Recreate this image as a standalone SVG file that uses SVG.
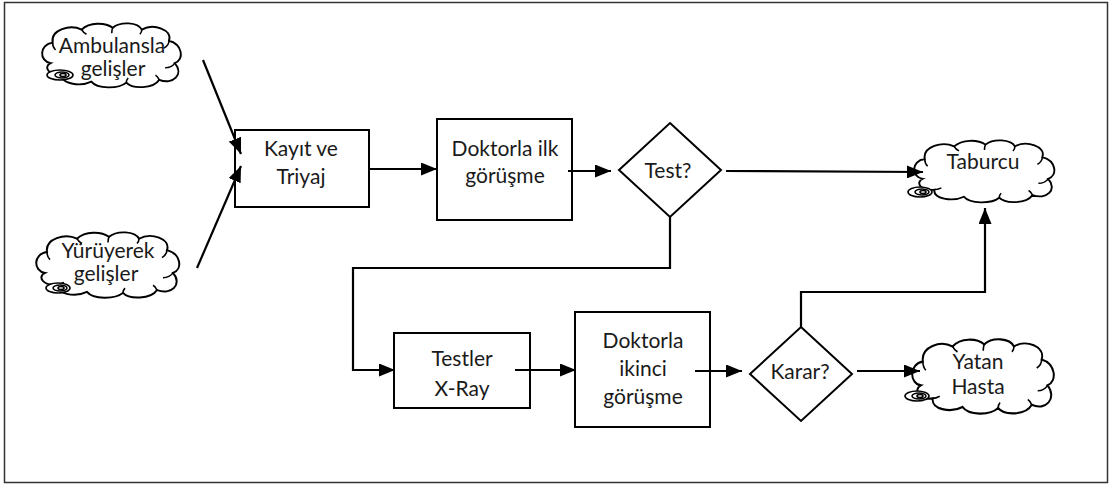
<svg xmlns="http://www.w3.org/2000/svg" xmlns:xlink="http://www.w3.org/1999/xlink" width="1113" height="499" viewBox="0 0 1113 499">
<style>
.box{fill:#fff;stroke:#000;stroke-width:2}
.cl{fill:#fff;stroke:#000;stroke-width:2;vector-effect:non-scaling-stroke}
.ci{fill:none;stroke:#000;stroke-width:1.6;vector-effect:non-scaling-stroke}
.sp{fill:#fff;stroke:#000;stroke-width:1.6}
.t{font-family:Lato,"Liberation Sans",sans-serif;font-size:21px;fill:#1a1a1a;text-anchor:middle}
.c{fill:none;stroke:#000;stroke-width:2.2;marker-end:url(#ah)}
</style>
<defs>
<marker id="ah" viewBox="0 0 16 13" refX="16" refY="6.5" markerWidth="16" markerHeight="13" markerUnits="userSpaceOnUse" orient="auto">
<path d="M0,0 L16,6.5 L0,13 Z" fill="#000"/>
</marker>
<path id="cloudP" d="M12,42 C0,40 0,22 14,20 C12,6 32,0 44,6 C52,-2 68,-2 76,4 C84,-3 102,-2 106,6 C118,-1 138,6 134,18 C148,22 150,38 140,42 C150,54 138,66 124,60 C118,70 96,70 90,63 C82,70 60,70 54,62 C42,68 22,64 24,54 C10,56 4,46 12,42 Z"/>
<path id="cloudI" d="M14,20 C14,23 15,26 17,28 M44,6 C45,8 47,10 49,11 M76,4 C75,6 75,8 75,10 M106,6 C106,8 105,10 104,11 M134,18 C134,21 132,24 129,26 M140,42 C138,45 134,47 130,47 M124,60 C123,58 122,56 120,55 M90,63 C90,61 91,59 92,58 M24,54 C26,54 29,53 31,52"/>
</defs>
<rect x="4.5" y="2.5" width="1103" height="480" fill="#fff" stroke="#333" stroke-width="1.5"/>

<g id="ambulansla">
<g transform="translate(39,24) scale(0.97,0.93)"><use xlink:href="#cloudP" class="cl"/><use xlink:href="#cloudI" class="ci"/></g>
<ellipse class="sp" cx="60" cy="75" rx="13" ry="5"/><ellipse class="sp" cx="62" cy="75" rx="7" ry="3"/><ellipse class="sp" cx="63" cy="75" rx="3" ry="1.5"/>
<text class="t" x="112" y="53">Ambulansla</text>
<text class="t" x="113" y="76">gelişler</text>
</g>

<g id="yuruyerek">
<g transform="translate(33,233) scale(1.0,0.95)"><use xlink:href="#cloudP" class="cl"/><use xlink:href="#cloudI" class="ci"/></g>
<ellipse class="sp" cx="58" cy="288" rx="12" ry="5"/><ellipse class="sp" cx="60" cy="288" rx="7" ry="3"/><ellipse class="sp" cx="61" cy="288" rx="3" ry="1.5"/>
<text class="t" x="108" y="258">Yürüyerek</text>
<text class="t" x="106" y="281">gelişler</text>
</g>

<g id="kayit">
<rect class="box" x="235" y="130" width="134" height="77"/>
<text class="t" x="301" y="156">Kayıt ve</text>
<text class="t" x="301" y="184">Triyaj</text>
</g>

<g id="doktor1">
<rect class="box" x="437" y="119" width="135" height="101"/>
<text class="t" x="505" y="156">Doktorla ilk</text>
<text class="t" x="505" y="183">görüşme</text>
</g>

<g id="test">
<polygon class="box" points="670,123 721,170 670,217 619,170"/>
<text class="t" x="668" y="178">Test?</text>
</g>

<g id="taburcu">
<g transform="translate(911,141) scale(0.98,0.9)"><use xlink:href="#cloudP" class="cl"/><use xlink:href="#cloudI" class="ci"/></g>
<ellipse class="sp" cx="920" cy="192" rx="12" ry="5"/><ellipse class="sp" cx="922" cy="192" rx="7" ry="3"/><ellipse class="sp" cx="923" cy="192" rx="3" ry="1.5"/>
<text class="t" x="983" y="169">Taburcu</text>
</g>

<g id="testler">
<rect class="box" x="394" y="333" width="136" height="75"/>
<text class="t" x="462" y="366">Testler</text>
<text class="t" x="462" y="396">X-Ray</text>
</g>

<g id="doktor2">
<rect class="box" x="575" y="312" width="135" height="115"/>
<text class="t" x="643" y="348">Doktorla</text>
<text class="t" x="643" y="376">ikinci</text>
<text class="t" x="643" y="404">görüşme</text>
</g>

<g id="karar">
<polygon class="box" points="801,327 852,374 801,421 750,374"/>
<text class="t" x="800" y="379">Karar?</text>
</g>

<g id="yatan">
<g transform="translate(909,340) scale(0.99,1.08)"><use xlink:href="#cloudP" class="cl"/><use xlink:href="#cloudI" class="ci"/></g>
<ellipse class="sp" cx="917" cy="396" rx="12" ry="5"/><ellipse class="sp" cx="919" cy="396" rx="7" ry="3"/><ellipse class="sp" cx="920" cy="396" rx="3" ry="1.5"/>
<text class="t" x="978" y="369">Yatan</text>
<text class="t" x="978" y="394">Hasta</text>
</g>

<g id="connectors">
<line class="c" x1="203" y1="60" x2="241" y2="154"/>
<line class="c" x1="197" y1="268" x2="241" y2="166"/>
<line class="c" x1="369" y1="169" x2="437" y2="169"/>
<line class="c" x1="568" y1="171" x2="611" y2="171"/>
<line class="c" x1="726" y1="171" x2="923" y2="172"/>
<polyline class="c" points="670,217 670,268 353,268 353,370 395,370"/>
<line class="c" x1="515" y1="370" x2="576" y2="370"/>
<line class="c" x1="695" y1="371" x2="742" y2="371"/>
<polyline class="c" points="801,327 801,292 985,292 985,208"/>
<line class="c" x1="857" y1="371" x2="920" y2="371"/>
</g>
</svg>
